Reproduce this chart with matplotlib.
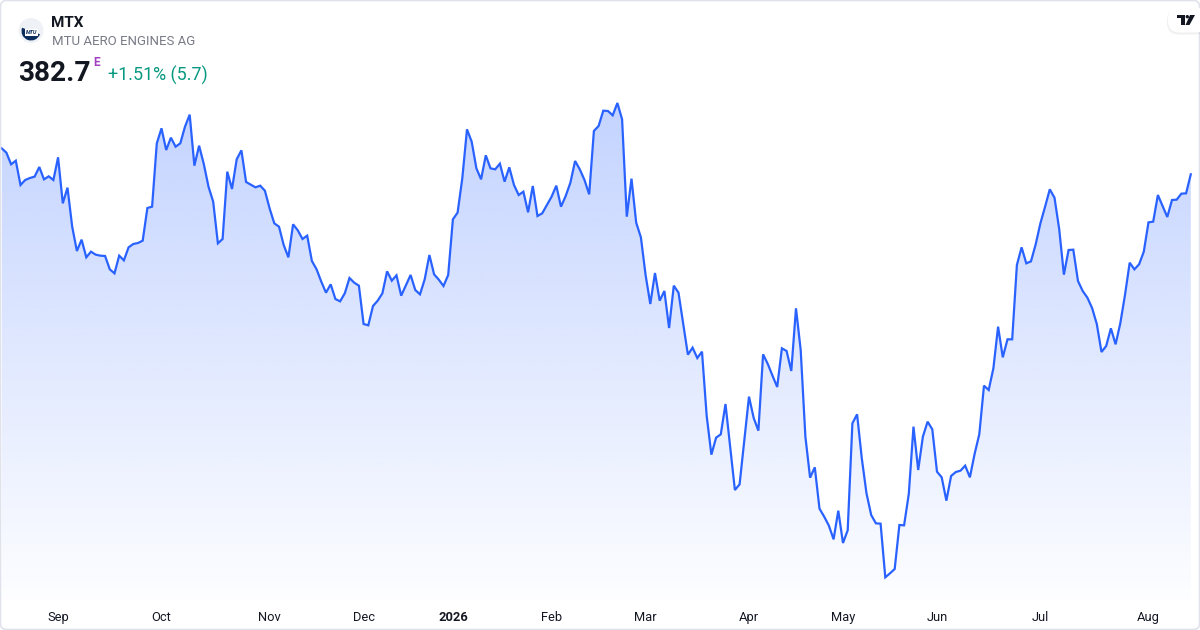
import numpy as np
import matplotlib.pyplot as plt
from matplotlib.colors import to_rgb
from matplotlib.patches import Circle, FancyBboxPatch, Polygon, Rectangle, Wedge

plt.rcParams['font.family'] = ['Roboto', 'DejaVu Sans']

TICKER = "MTX"
NAME = "MTU AERO ENGINES AG"
LAST = "382.7"
CHANGE = "+1.51% (5.7)"

# daily closes, Aug 2025 -> Aug 2026
close = [
    390.5, 389.2, 385.7, 386.8, 379.5, 381.0, 381.6, 382.0, 384.9, 381.2,
    382.1, 381.0, 387.8, 374.0, 378.7, 367.0, 359.7, 363.1, 357.8, 359.5,
    358.6, 358.3, 358.2, 354.2, 353.0, 358.3, 356.9, 360.8, 361.8, 362.1,
    362.8, 372.6, 373.0, 392.0, 396.5, 390.0, 393.7, 391.0, 392.0, 397.0,
    400.6, 385.3, 391.3, 385.8, 379.0, 374.5, 362.0, 363.3, 383.5, 378.3,
    387.2, 389.9, 380.4, 379.6, 378.8, 379.3, 377.8, 372.5, 368.0, 367.0,
    361.5, 357.8, 367.7, 365.9, 363.3, 364.3, 356.7, 354.2, 350.5, 347.2,
    349.7, 345.3, 344.6, 347.0, 351.6, 350.2, 349.3, 337.8, 337.4, 343.2,
    344.8, 347.0, 353.6, 350.8, 352.4, 346.3, 349.4, 352.5, 348.0, 346.7,
    351.2, 358.5, 352.7, 351.1, 349.2, 352.5, 369.2, 371.2, 381.5, 396.2,
    392.5, 384.5, 381.2, 388.4, 384.5, 384.2, 385.9, 380.5, 384.8, 379.5,
    376.5, 377.5, 371.3, 379.2, 370.2, 371.0, 373.5, 376.0, 379.3, 373.0,
    376.2, 380.2, 386.7, 384.2, 381.0, 376.7, 395.7, 397.2, 401.8, 401.7,
    400.4, 404.1, 399.2, 370.0, 381.4, 368.2, 363.8, 352.5, 343.8, 353.1,
    344.8, 347.7, 336.6, 349.3, 347.2, 338.0, 328.6, 330.7, 327.6, 329.5,
    310.2, 298.6, 303.7, 304.7, 313.8, 301.0, 288.0, 289.7, 303.0, 316.0,
    309.6, 305.8, 328.7, 325.8, 322.3, 318.9, 330.5, 329.7, 323.7, 342.5,
    330.0, 304.0, 291.7, 294.8, 282.4, 280.0, 277.3, 273.2, 281.8, 272.1,
    275.9, 308.0, 310.7, 297.5, 287.0, 280.5, 278.0, 277.9, 261.8, 263.0,
    264.3, 277.5, 277.4, 286.8, 307.0, 294.0, 304.0, 308.5, 306.2, 293.5,
    291.8, 284.8, 292.2, 293.4, 293.8, 295.3, 291.8, 298.8, 304.7, 319.3,
    318.0, 324.5, 337.0, 327.8, 333.2, 333.2, 355.5, 360.8, 356.0, 356.6,
    361.7, 368.0, 373.0, 378.2, 375.7, 366.3, 352.6, 360.0, 360.1, 350.7,
    347.7, 345.7, 342.6, 337.8, 329.4, 331.2, 336.5, 331.7, 338.0, 346.5,
    356.2, 354.2, 355.7, 359.5, 368.3, 368.5, 376.5, 373.2, 369.9, 375.0,
    375.1, 376.9, 377.0, 382.7,
]
# first trading day of each month (index into close)
month_pos = [12, 34, 57, 77, 96, 117, 137, 159, 179, 199, 221, 244]
month_lbl = ["Sep", "Oct", "Nov", "Dec", "2026", "Feb", "Mar", "Apr", "May", "Jun", "Jul", "Aug"]

LINE = "#2962ff"
W, H = 1200, 630
YLO, YHI = 255, 435

fig = plt.figure(figsize=(W / 100, H / 100), dpi=100)
ax = fig.add_axes([0, 30 / H, 1, 600 / H])

x = np.arange(len(close))
y = np.array(close)

# gradient area under the line
rgba = np.zeros((256, 1, 4))
rgba[..., :3] = to_rgb(LINE)
rgba[..., 3] = np.linspace(0.28, 0.01, 256)[:, None]
im = ax.imshow(rgba, extent=[x[0], x[-1], YLO, y.max()], aspect="auto",
               origin="upper", interpolation="bilinear", zorder=1)
clip = Polygon(list(zip(x, y)) + [(x[-1], YLO), (x[0], YLO)], closed=True,
               facecolor="none", edgecolor="none", transform=ax.transData)
ax.add_patch(clip)
im.set_clip_path(clip)

ax.plot(x, y, color=LINE, lw=1.6, zorder=3, solid_joinstyle="miter")

ax.set_xlim(-0.36, 254.96)
ax.set_ylim(YLO, YHI)
for s in ax.spines.values():
    s.set_visible(False)
ax.set_yticks([])
ax.set_xticks(month_pos, month_lbl)
ax.tick_params(axis="x", length=0, pad=8, labelsize=9.3, colors="#131722")
for t in ax.get_xticklabels():
    if t.get_text() == "2026":
        t.set_fontweight("bold")

# overlay in pixel coords for header / frame
ov = fig.add_axes([0, 0, 1, 1], zorder=5)
ov.set_xlim(0, W)
ov.set_ylim(H, 0)
ov.axis("off")
ov.patch.set_alpha(0)

ov.add_patch(FancyBboxPatch((0.5, 0.5), W - 1, H - 1, boxstyle="round,pad=0,rounding_size=6",
                            facecolor="none", edgecolor="#e0e3eb", lw=1.2))

# company logo
ov.add_patch(Circle((31, 30.5), 12.5, facecolor="#eef1f6", edgecolor="none"))
ov.add_patch(Wedge((31, 31), 9.5, 20, 200, width=5, facecolor="#0b2d5e", edgecolor="none"))
ov.text(31.5, 32.5, "MTU", fontsize=4, color="#0b2d5e", style="italic",
        fontweight="bold", ha="center", va="center",
        bbox=dict(boxstyle="square,pad=0.1", fc="white", ec="none"))

ov.text(51.5, 26.7, TICKER, fontsize=11, fontweight="bold", color="#131722", va="baseline")
ov.text(51.5, 45, NAME, fontsize=9.5, color="#787b86", va="baseline")
ov.text(18, 81, LAST, fontsize=20.2, fontweight="bold", color="#131722", va="baseline")
ov.text(93.5, 65.7, "E", fontsize=8.5, fontweight="bold", color="#a13fc2", va="baseline")
ov.text(107.5, 80.5, CHANGE, fontsize=12.9, color="#089981", va="baseline")

# TradingView badge
ov.add_patch(FancyBboxPatch((1167, 8.5), 40, 26, boxstyle="round,pad=0,rounding_size=12",
                            facecolor="#000000", alpha=0.06, edgecolor="none"))
ov.add_patch(FancyBboxPatch((1168, 7.5), 40, 25, boxstyle="round,pad=0,rounding_size=12",
                            facecolor="white", edgecolor="none"))
ov.add_patch(Rectangle((1177, 15), 7.5, 3.3, facecolor="#131722", edgecolor="none"))
ov.add_patch(Rectangle((1180.5, 15), 4, 10, facecolor="#131722", edgecolor="none"))
ov.add_patch(Circle((1187.3, 16.7), 1.7, facecolor="#131722", edgecolor="none"))
ov.add_patch(Polygon([(1190, 15), (1195, 15), (1189.5, 25), (1185.5, 25)],
                     facecolor="#131722", edgecolor="none"))

fig.savefig("out.png", dpi=100)
